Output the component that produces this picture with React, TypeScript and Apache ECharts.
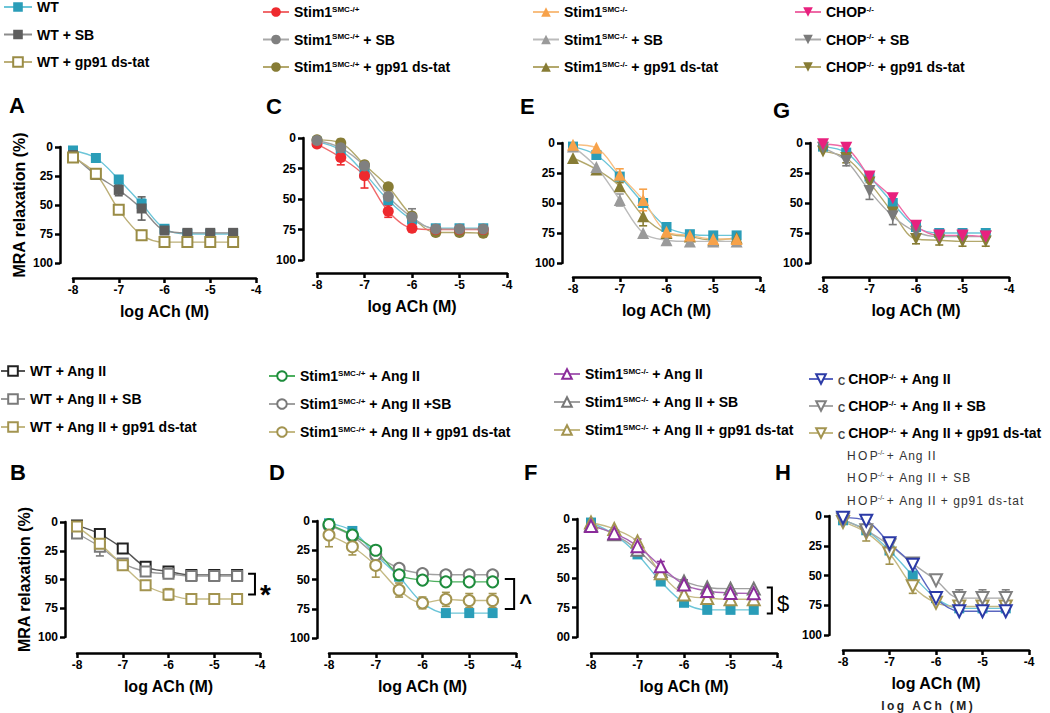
import React, { useEffect, useRef } from "react";
import * as echarts from "echarts";

// ---------- data ----------
const logAch = [-8, -7.5, -7, -6.5, -6, -5.5, -5, -4.5];
const xTicks = [-8, -7, -6, -5, -4];

// Panel A
const wtA = [3, 9.5, 28, 49, 70.5, 75, 75, 75];
const wtAErr = [0, 0, 0, 4, 0, 0, 0, 0];
const wtSbA = [7, 24, 37, 53, 72, 74, 74, 74];
const wtSbAErr = [2, 3, 5, 10, 3, 2, 2, 2];
const wtGpA = [9, 23, 54, 76, 82, 82, 82, 82];
const wtGpAErr = [2, 3, 4, 4, 0, 0, 0, 0];

// Panel C
const wtC = [3, 10, 29, 51, 67, 74, 74, 74];
const stimC = [5, 16, 31, 60, 74, 75, 75, 75];
const stimCErr = [0, 6, 10, 5, 0, 0, 0, 0];
const stimSbC = [2, 8, 23, 48, 65, 74.5, 74.5, 74.5];
const stimSbCErr = [0, 0, 0, 0, 7, 0, 0, 0];
const stimGpC = [1.5, 4, 22, 40, 64, 77.5, 77.5, 78];

// Panel E
const wtE = [3, 10, 28, 50, 70, 76, 77, 77];
const koE = [1.5, 4, 26.5, 47.5, 74, 77, 80, 80];
const koEErr = [0, 0, 5, 9, 0, 0, 0, 0];
const koSbE = [3, 20, 47.5, 75, 81, 82, 82, 82];
const koSbEErr = [0, 0, 5, 0, 0, 0, 0, 0];
const koGpE = [12.5, 22, 36, 61, 75, 78, 81, 79];
const koGpEErr = [0, 0, 3, 8, 0, 0, 0, 0];

// Panel G
const wtG = [3, 8, 28, 50, 70, 75, 75, 75];
const chopG = [1, 4, 28, 46, 69, 77, 77, 78];
const chopSbG = [4, 15, 40, 61, 74, 78, 78, 78];
const chopSbGErr = [0, 4, 7, 7, 0, 0, 0, 0];
const chopGpG = [7, 12.5, 33, 58, 80, 81, 82, 82];
const chopGpGErr = [0, 4, 4, 0, 4, 4, 4, 4];

// Panel B
const wtAng = [3, 10.5, 23, 39, 43, 46, 46, 46];
const wtAngSb = [10, 21.5, 36, 43, 45, 47, 47, 47];
const wtAngSbErr = [3, 8, 3, 4, 3, 4, 4, 4];
const wtAngGp = [4, 19, 37.5, 55, 63, 67, 67, 67];
const wtAngGpErr = [0, 4, 3, 0, 5, 0, 0, 0];

// Panel D
const wtD = [2, 8.5, 29, 47.6, 70, 78.7, 78.7, 78.7];
const stimAngD = [3, 12, 25, 46, 50.5, 52, 52, 52];
const stimAngSbD = [4, 13, 29, 40.5, 45, 46, 46, 46];
const stimAngGpD = [12, 22, 38, 59, 70, 67, 68, 68];
const stimAngGpDErr = [10, 7, 10, 6, 5, 6, 6, 6];

// Panel F
const wtF = [3, 13, 30, 53, 71, 77, 77, 77];
const koAngF = [6, 12, 23, 40, 55.6, 61, 62.7, 63];
const koAngFErr = [0, 0, 6, 4, 4, 2, 2, 2];
const koAngSbF = [5, 13, 26, 44, 53, 58, 59, 59];
const koAngGpF = [3, 8.5, 19, 46, 64, 67, 68, 68];

// Panel H
const wtH = [3.6, 12, 29, 50, 69, 77.6, 77.6, 77.6];
const chopAngH = [1.4, 4, 23, 41, 69, 80, 80, 80];
const chopAngSbH = [3, 12, 24.6, 40, 54, 69, 69, 69];
const chopAngSbHErr = [0, 0, 0, 0, 0, 7, 7, 7];
const chopAngGpH = [5, 14, 31.5, 59, 73, 76, 76, 76];
const chopAngGpHErr = [0, 7, 9, 6, 0, 0, 0, 0];

// significance brackets: [x, yTop, yBottom, xLeft]
const bracketB = [-4.11, 45, 63, -4.26];
const bracketD = [-4.04, 49.6, 75.2, -4.24];
const bracketF = [-4.11, 58, 80, -4.22];
const bracketMarks = ["*", "^", "$"];

// ---------- styles ----------
const FONT = '"Liberation Sans", Arial, Helvetica, sans-serif';
const TEAL = "#2A9DB8";
const TEAL_L = "#6CC5D8";
const OLIVE_D = "#877C35";
const OLIVE_DL = "#B3A86C";
const OLIVE_L = "#A39450";
const OLIVE_LL = "#C4B984";

type Spec = {
  name: string;
  vals: number[];
  err?: number[];
  c: string;
  l: string;
  sym: string;
  size?: number;
  rot?: number;
};

type Panel = {
  tag: string;
  L: number;
  R: number;
  T: number;
  B: number;
  yOff: number;
  xOff: number;
  yName?: boolean;
  tx: number;
  ty: number;
  yFmt?: (v: number) => string;
  series: Spec[];
};

const wtRef = (vals: number[]): Spec => ({ name: "WT", vals, c: TEAL, l: TEAL_L, sym: "rect", size: 10 });

const PANELS: Panel[] = [
  {
    tag: "A", L: 73, R: 256, T: 147, B: 263, yOff: 13, xOff: 15, yName: true, tx: 9, ty: 105,
    series: [
      { name: "WT", vals: wtA, err: wtAErr, c: TEAL, l: TEAL_L, sym: "rect", size: 10 },
      { name: "WT + SB", vals: wtSbA, err: wtSbAErr, c: "#5E5E5E", l: "#8C8C8C", sym: "rect", size: 10 },
      { name: "WT + gp91 ds-tat", vals: wtGpA, err: wtGpAErr, c: "#9A8C45", l: "#BCAF78", sym: "emptyRect", size: 10 },
    ],
  },
  {
    tag: "C", L: 317, R: 507, T: 138, B: 260, yOff: 14, xOff: 13, tx: 266, ty: 106,
    series: [
      wtRef(wtC),
      { name: "Stim1SMC-/+ + gp91 ds-tat", vals: stimGpC, c: OLIVE_D, l: OLIVE_DL, sym: "circle", size: 11 },
      { name: "Stim1SMC-/+", vals: stimC, err: stimCErr, c: "#EE2A2E", l: "#F06A6C", sym: "circle", size: 11 },
      { name: "Stim1SMC-/+ + SB", vals: stimSbC, err: stimSbCErr, c: "#808080", l: "#A8A8A8", sym: "circle", size: 11 },
    ],
  },
  {
    tag: "E", L: 573, R: 760, T: 143, B: 263, yOff: 11, xOff: 14, tx: 520, ty: 106,
    series: [
      wtRef(wtE),
      { name: "Stim1SMC-/- + gp91 ds-tat", vals: koGpE, err: koGpEErr, c: OLIVE_D, l: OLIVE_DL, sym: "triangle", size: 12 },
      { name: "Stim1SMC-/- + SB", vals: koSbE, err: koSbEErr, c: "#9A9A9A", l: "#BBBBBB", sym: "triangle", size: 12 },
      { name: "Stim1SMC-/-", vals: koE, err: koEErr, c: "#F7A24A", l: "#F8BE80", sym: "triangle", size: 12 },
    ],
  },
  {
    tag: "G", L: 823, R: 1009, T: 143, B: 263, yOff: 13, xOff: 14, tx: 773, ty: 110,
    series: [
      wtRef(wtG),
      { name: "CHOP-/- + gp91 ds-tat", vals: chopGpG, err: chopGpGErr, c: OLIVE_D, l: OLIVE_DL, sym: "triangle", size: 12, rot: 180 },
      { name: "CHOP-/- + SB", vals: chopSbG, err: chopSbGErr, c: "#7A7A7A", l: "#AAAAAA", sym: "triangle", size: 12, rot: 180 },
      { name: "CHOP-/-", vals: chopG, c: "#E8217E", l: "#EE6AA6", sym: "triangle", size: 12, rot: 180 },
    ],
  },
  {
    tag: "B", L: 77, R: 260, T: 522, B: 637, yOff: 12, xOff: 16, yName: true, tx: 10, ty: 472,
    series: [
      { name: "WT + Ang II", vals: wtAng, c: "#222222", l: "#555555", sym: "emptyRect", size: 10 },
      { name: "WT + Ang II + SB", vals: wtAngSb, err: wtAngSbErr, c: "#7A7A7A", l: "#9A9A9A", sym: "emptyRect", size: 10 },
      { name: "WT + Ang II + gp91 ds-tat", vals: wtAngGp, err: wtAngGpErr, c: OLIVE_L, l: OLIVE_LL, sym: "emptyRect", size: 10 },
    ],
  },
  {
    tag: "D", L: 329, R: 516, T: 521, B: 638, yOff: 12, xOff: 15, tx: 269, ty: 472,
    series: [
      wtRef(wtD),
      { name: "Stim1SMC-/+ + Ang II +SB", vals: stimAngSbD, c: "#7A7A7A", l: "#A0A0A0", sym: "emptyCircle", size: 11 },
      { name: "Stim1SMC-/+ + Ang II", vals: stimAngD, c: "#1E8C3C", l: "#4CAF5E", sym: "emptyCircle", size: 11 },
      { name: "Stim1SMC-/+ + Ang II + gp91 ds-tat", vals: stimAngGpD, err: stimAngGpDErr, c: OLIVE_L, l: OLIVE_LL, sym: "emptyCircle", size: 11 },
    ],
  },
  {
    tag: "F", L: 591, R: 777, T: 519, B: 637, yOff: 14, xOff: 16, tx: 524, ty: 472,
    yFmt: (v: number) => (v === 100 ? "00" : String(v)),
    series: [
      wtRef(wtF),
      { name: "Stim1SMC-/- + Ang II + SB", vals: koAngSbF, c: "#777777", l: "#A0A0A0", sym: "emptyTriangle", size: 12 },
      { name: "Stim1SMC-/- + Ang II + gp91 ds-tat", vals: koAngGpF, c: OLIVE_L, l: OLIVE_LL, sym: "emptyTriangle", size: 12 },
      { name: "Stim1SMC-/- + Ang II", vals: koAngF, err: koAngFErr, c: "#8B2C9B", l: "#A862B5", sym: "emptyTriangle", size: 12 },
    ],
  },
  {
    tag: "H", L: 843, R: 1029, T: 516, B: 635, yOff: 14, xOff: 15, tx: 775, ty: 472,
    series: [
      wtRef(wtH),
      { name: "CHOP-/- + Ang II + gp91 ds-tat", vals: chopAngGpH, err: chopAngGpHErr, c: OLIVE_L, l: OLIVE_LL, sym: "emptyTriangle", size: 12, rot: 180 },
      { name: "CHOP-/- + Ang II + SB", vals: chopAngSbH, err: chopAngSbHErr, c: "#808080", l: "#A8A8A8", sym: "emptyTriangle", size: 12, rot: 180 },
      { name: "CHOP-/- + Ang II", vals: chopAngH, c: "#2B3AA6", l: "#5A66C0", sym: "emptyTriangle", size: 12, rot: 180 },
    ],
  },
];

const LEGENDS = [
  { names: ["WT", "WT + SB", "WT + gp91 ds-tat"], left: 3, top: 0, gap: 13.5, w: 28 },
  { names: ["Stim1SMC-/+", "Stim1SMC-/+ + SB", "Stim1SMC-/+ + gp91 ds-tat"], left: 262, top: 5, gap: 13.5, w: 26 },
  { names: ["Stim1SMC-/-", "Stim1SMC-/- + SB", "Stim1SMC-/- + gp91 ds-tat"], left: 532, top: 5, gap: 13.5, w: 26 },
  { names: ["CHOP-/-", "CHOP-/- + SB", "CHOP-/- + gp91 ds-tat"], left: 794, top: 5, gap: 13.5, w: 26 },
  { names: ["WT + Ang II", "WT + Ang II + SB", "WT + Ang II + gp91 ds-tat"], left: 0, top: 364, gap: 14, w: 24 },
  { names: ["Stim1SMC-/+ + Ang II", "Stim1SMC-/+ + Ang II +SB", "Stim1SMC-/+ + Ang II + gp91 ds-tat"], left: 268, top: 369, gap: 14, w: 26 },
  { names: ["Stim1SMC-/- + Ang II", "Stim1SMC-/- + Ang II + SB", "Stim1SMC-/- + Ang II + gp91 ds-tat"], left: 553, top: 367, gap: 14, w: 26 },
  { names: ["CHOP-/- + Ang II", "CHOP-/- + Ang II + SB", "CHOP-/- + Ang II + gp91 ds-tat"], left: 808, top: 372, gap: 13, w: 24 },
];

const HOP_LINES = ["+ Ang II", "+ Ang II + SB", "+ Ang II + gp91 ds-tat"];

function richName(name: string): string {
  let m = name.match(/^Stim1SMC(-\/[+-])(.*)$/);
  if (m) return `{b|Stim1}{s|SMC${m[1]}}` + (m[2] ? `{b|${m[2]}}` : "");
  m = name.match(/^CHOP-\/-(.*)$/);
  if (m) return (m[1].includes("Ang") ? "{c|C}" : "") + "{b|CHOP}{s|-/-}" + (m[1] ? `{b|${m[1]}}` : "");
  return `{b|${name}}`;
}

const spaced = (s: string, sep: string) => s.split("").join(sep);

function buildOption() {
  const grid: any[] = [];
  const xAxis: any[] = [];
  const yAxis: any[] = [];
  const series: any[] = [];
  const graphic: any[] = [];

  PANELS.forEach((p, i) => {
    grid.push({ left: p.L, top: p.T, width: p.R - p.L, height: p.B - p.T, containLabel: false, outerBoundsMode: "none" });
    xAxis.push({
      gridIndex: i,
      type: "value",
      min: -8,
      max: -4,
      interval: 1,
      offset: p.xOff,
      splitLine: { show: false },
      axisLine: { show: true, onZero: false, lineStyle: { color: "#000", width: 2.5 } },
      axisTick: { show: true, length: 5, lineStyle: { color: "#000", width: 2.5 } },
      axisLabel: {
        color: "#000", fontWeight: "bold", fontSize: 12, fontFamily: FONT, margin: 6,
        showMinLabel: true, showMaxLabel: true,
        formatter: (v: number) => (xTicks.includes(v) ? String(v) : ""),
      },
      name: "log ACh (M)",
      nameLocation: "middle",
      nameGap: 25,
      nameTextStyle: { color: "#000", fontWeight: "bold", fontSize: 16, fontFamily: FONT },
    });
    yAxis.push({
      gridIndex: i,
      type: "value",
      inverse: true,
      min: 0,
      max: 100,
      interval: 25,
      offset: p.yOff,
      splitLine: { show: false },
      axisLine: { show: true, onZero: false, lineStyle: { color: "#000", width: 2.5 } },
      axisTick: { show: true, length: 5, lineStyle: { color: "#000", width: 2.5 } },
      axisLabel: {
        color: "#000", fontWeight: "bold", fontSize: 12, fontFamily: FONT, margin: 7,
        showMinLabel: true, showMaxLabel: true,
        formatter: p.yFmt ? p.yFmt : (v: number) => String(v),
      },
      name: p.yName ? "MRA relaxation (%)" : "",
      nameLocation: "middle",
      nameGap: 33,
      nameRotate: 90,
      nameTextStyle: { color: "#000", fontWeight: "bold", fontSize: 16, fontFamily: FONT },
    });

    // error bars (under the markers)
    p.series.forEach((s) => {
      if (!s.err) return;
      const data = logAch.map((x, k) => [x, s.vals[k], s.err![k]]).filter((d) => d[2] > 0);
      series.push({
        type: "custom",
        xAxisIndex: i,
        yAxisIndex: i,
        silent: true,
        z: 1,
        encode: { x: 0, y: 1 },
        data,
        renderItem: (_params: any, api: any) => {
          const x = api.value(0);
          const y = api.value(1);
          const e = api.value(2);
          const a = api.coord([x, y - e]);
          const b = api.coord([x, y + e]);
          const hw = 4;
          const st = { stroke: s.c, lineWidth: 1.6 };
          return {
            type: "group",
            children: [
              { type: "line", shape: { x1: a[0], y1: a[1], x2: b[0], y2: b[1] }, style: st },
              { type: "line", shape: { x1: a[0] - hw, y1: a[1], x2: a[0] + hw, y2: a[1] }, style: st },
              { type: "line", shape: { x1: b[0] - hw, y1: b[1], x2: b[0] + hw, y2: b[1] }, style: st },
            ],
          };
        },
      });
    });

    p.series.forEach((s) => {
      const empty = s.sym.startsWith("empty");
      series.push({
        type: "line",
        name: s.name,
        xAxisIndex: i,
        yAxisIndex: i,
        data: logAch.map((x, k) => [x, s.vals[k]]),
        smooth: 0.35,
        symbol: s.sym,
        symbolSize: s.size || 11,
        symbolRotate: s.rot || 0,
        showAllSymbol: true,
        z: 2,
        itemStyle: empty
          ? { color: s.c, borderColor: s.c, borderWidth: 2 }
          : { color: s.c, borderColor: s.c, borderWidth: 0 },
        lineStyle: { color: s.l, width: 1.4 },
        emphasis: { disabled: true },
      });
    });

    graphic.push({
      type: "text",
      x: p.tx,
      y: p.ty,
      style: {
        text: p.tag,
        font: `bold 22px ${FONT}`,
        fill: "#000",
        textVerticalAlign: "middle",
      },
    });
  });

  // significance brackets
  const bracketPanels = [4, 5, 6];
  [bracketB, bracketD, bracketF].forEach((br, j) => {
    const idx = bracketPanels[j];
    const mark = bracketMarks[j];
    series.push({
      type: "custom",
      xAxisIndex: idx,
      yAxisIndex: idx,
      silent: true,
      clip: false,
      z: 3,
      data: [br],
      encode: { x: 0, y: 1 },
      renderItem: (_params: any, api: any) => {
        const x = api.value(0);
        const y1 = api.value(1);
        const y2 = api.value(2);
        const xl = api.value(3);
        const p1 = api.coord([x, y1]);
        const p2 = api.coord([x, y2]);
        const pl = api.coord([xl, y1]);
        const isStar = mark === "*";
        return {
          type: "group",
          children: [
            {
              type: "polyline",
              shape: { points: [[pl[0], p1[1]], [p1[0], p1[1]], [p2[0], p2[1]], [pl[0], p2[1]]] },
              style: { stroke: "#000", lineWidth: 2, fill: null },
            },
            {
              type: "text",
              x: p1[0] + 5,
              y: (p1[1] + p2[1]) / 2 + (isStar ? 10 : mark === "^" ? 8 : 3),
              style: {
                text: mark,
                font: `${mark === "$" ? "normal" : "bold"} ${isStar ? 28 : 22}px ${FONT}`,
                fill: "#000",
                textAlign: "left",
                textVerticalAlign: "middle",
              },
            },
          ],
        };
      },
    });
  });

  // HOP text lines (extra labels under the CHOP legend)
  const hopY = [456, 478, 501];
  HOP_LINES.forEach((t, k) => {
    graphic.push({
      type: "text",
      x: 847,
      y: hopY[k],
      style: {
        text: `{n|${spaced("HOP", "\u2009")}}{s|-/-}{n|\u2009${spaced(t, "\u200A")}}`,
        textVerticalAlign: "middle",
        rich: {
          n: { fontSize: 12, fontFamily: FONT, fill: "#333", lineHeight: 14 },
          s: { fontSize: 7, fontFamily: FONT, fill: "#333", verticalAlign: "top", lineHeight: 8 },
        },
      },
    });
  });
  graphic.push({
    type: "text",
    x: 927,
    y: 706,
    style: {
      text: spaced("log ACh (M)", "\u2009"),
      font: `bold 12px ${FONT}`,
      fill: "#222",
      textAlign: "center",
      textVerticalAlign: "middle",
    },
  });

  const legend = LEGENDS.map((lg) => ({
    data: lg.names,
    orient: "vertical",
    left: lg.left,
    top: lg.top,
    padding: 0,
    itemGap: lg.gap,
    itemWidth: lg.w,
    itemHeight: 12,
    selectedMode: false,
    formatter: (name: string) => richName(name),
    textStyle: {
      color: "#000",
      fontFamily: FONT,
      fontSize: 14,
      fontWeight: "bold",
      rich: {
        b: { fontSize: 14, fontWeight: "bold", fontFamily: FONT, color: "#000", lineHeight: 14 },
        s: { fontSize: 8, fontWeight: "bold", fontFamily: FONT, color: "#000", verticalAlign: "top", lineHeight: 9 },
        c: { fontSize: 10, fontFamily: FONT, color: "#444", verticalAlign: "bottom", lineHeight: 8, padding: [0, 3, 0, 0] },
      },
    },
  }));

  return {
    animation: false,
    backgroundColor: "#fff",
    grid,
    xAxis,
    yAxis,
    series,
    legend,
    graphic,
  };
}

export default function App() {
  const ref = useRef<HTMLDivElement>(null);
  useEffect(() => {
    if (!ref.current) return;
    const chart = echarts.init(ref.current, undefined, { renderer: "svg" });
    chart.setOption(buildOption() as any);
    return () => chart.dispose();
  }, []);
  return (
    <div
      ref={ref}
      style={{ position: "fixed", left: 0, top: 0, width: 1050, height: 713, background: "#fff" }}
    />
  );
}
